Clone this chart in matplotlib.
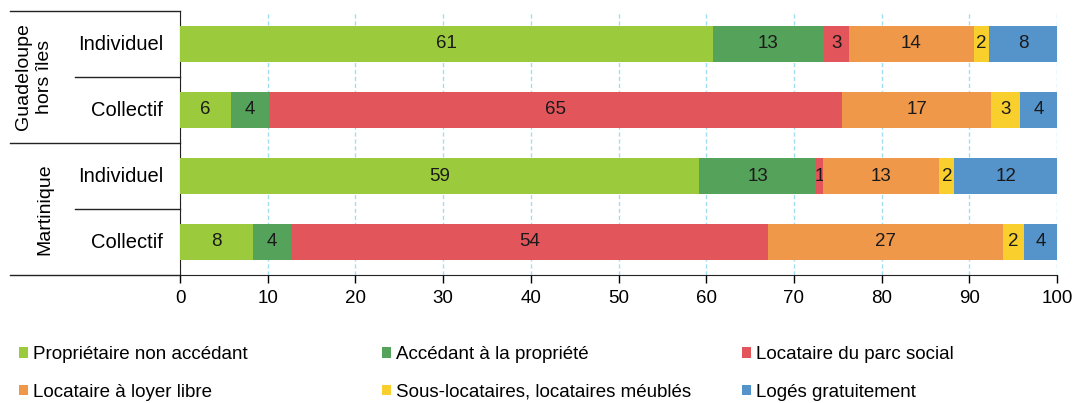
import matplotlib.pyplot as plt
import numpy as np
from matplotlib.lines import Line2D
from matplotlib.patches import Patch

plt.rcParams['font.family'] = ['Liberation Sans', 'DejaVu Sans']

# data (percent)
rows = ['Individuel', 'Collectif', 'Individuel', 'Collectif']
groups = ['Guadeloupe\nhors îles', 'Martinique']
series = ['Propriétaire non accédant', 'Accédant à la propriété', 'Locataire du parc social',
          'Locataire à loyer libre', 'Sous-locataires, locataires méublés', 'Logés gratuitement']
proprio = [60.8, 5.8, 59.2, 8.3]
accedant = [12.6, 4.3, 13.3, 4.4]
social = [2.9, 65.4, 0.8, 54.4]
libre = [14.2, 17.0, 13.3, 26.7]
sousloc = [1.8, 3.3, 1.7, 2.4]
gratuit = [7.7, 4.2, 11.7, 3.8]
labels = [['61', '6', '59', '8'], ['13', '4', '13', '4'], ['3', '65', '1', '54'],
          ['14', '17', '13', '27'], ['2', '3', '2', '2'], ['8', '4', '12', '4']]
colors = ['#9BCB3C', '#55A25B', '#E2555B', '#F0984A', '#F9CF2E', '#5593CB']

W, H = 1081, 403
fig = plt.figure(figsize=(W / 100, H / 100), dpi=100)
ax = fig.add_axes([180 / W, 1 - 275 / H, (1057 - 180) / W, (275 - 11) / H])

y = np.arange(len(rows))
left = np.zeros(len(rows))
for vals, lab, col, name in zip([proprio, accedant, social, libre, sousloc, gratuit], labels, colors, series):
    bars = ax.barh(y, vals, left=left, height=0.55, color=col, label=name, zorder=3)
    ax.bar_label(bars, labels=lab, label_type='center', fontsize=13.5, color='#1a1a1a')
    left += np.array(vals)

ax.set_xlim(0, 100)
ax.set_ylim(3.5, -0.5)
ax.set_xticks(np.arange(0, 101, 10))
ax.tick_params(axis='x', labelsize=13.5, length=6, width=1, direction='out', pad=5)
ax.set_yticks([])
ax.xaxis.grid(True, linestyle=(0, (3, 2)), color='#A0DEF0', linewidth=1, zorder=0)
for s in ['top', 'right']:
    ax.spines[s].set_visible(False)
ax.spines['left'].set_color('#222222')
ax.spines['bottom'].set_color('#222222')

# left hierarchical labels
def px(x, yy):
    return x / W, 1 - yy / H

line_kw = dict(color='#222222', linewidth=1)
for (x0, x1, yy) in [(10, 180, 11), (10, 180, 143), (10, 180, 275), (75, 180, 77), (75, 180, 209)]:
    a, b = px(x0, yy)
    c, _ = px(x1, yy)
    fig.add_artist(Line2D([a, c], [b, b], transform=fig.transFigure, **line_kw))

for i, name in enumerate(rows):
    ycen = 44 + 66 * i
    fig.text(163 / W, 1 - ycen / H, name, ha='right', va='center', fontsize=14.5)

fig.text(34 / W, 1 - 77 / H, groups[0], rotation=90, ha='center', va='center', fontsize=14,
         multialignment='center', linespacing=1.25)
fig.text(45 / W, 1 - 209 / H, groups[1], rotation=90, ha='center', va='center', fontsize=14)

# legend in three columns
handles = [Patch(facecolor=c, edgecolor='none') for c in colors]
col_x = [19, 382, 742]
for k in range(3):
    fig.legend([handles[k], handles[k + 3]], [series[k], series[k + 3]],
               loc='upper left', bbox_to_anchor=(col_x[k] / W, 1 - 346 / H),
               frameon=False, fontsize=13.5, handlelength=0.5, handleheight=0.5,
               handletextpad=0.25, labelspacing=1.1, borderaxespad=0, borderpad=0)

fig.savefig('out.png', dpi=100)
